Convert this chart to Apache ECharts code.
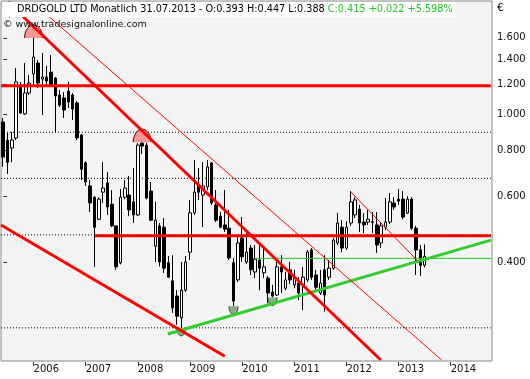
<!DOCTYPE html>
<html><head><meta charset="utf-8">
<script src="https://cdn.jsdelivr.net/npm/echarts@6/dist/echarts.min.js"></script>
<style>html,body{margin:0;padding:0;background:#fff}#c{width:530px;height:379px}</style>
</head><body><div id="c"></div>
<script>
// ---- categories (monthly) ----
const months = [
 '2005-06','2005-07','2005-08','2005-09','2005-10','2005-11','2005-12',
 '2006-01','2006-02','2006-03','2006-04','2006-05','2006-06','2006-07','2006-08','2006-09','2006-10','2006-11','2006-12',
 '2007-01','2007-02','2007-03','2007-04','2007-05','2007-06','2007-07','2007-08','2007-09','2007-10','2007-11','2007-12',
 '2008-01','2008-02','2008-03','2008-04','2008-05','2008-06','2008-07','2008-08','2008-09','2008-10','2008-11','2008-12',
 '2009-01','2009-02','2009-03','2009-04','2009-05','2009-06','2009-07','2009-08','2009-09','2009-10','2009-11','2009-12',
 '2010-01','2010-02','2010-03','2010-04','2010-05','2010-06','2010-07','2010-08','2010-09','2010-10','2010-11','2010-12',
 '2011-01','2011-02','2011-03','2011-04','2011-05','2011-06','2011-07','2011-08','2011-09','2011-10','2011-11','2011-12',
 '2012-01','2012-02','2012-03','2012-04','2012-05','2012-06','2012-07','2012-08','2012-09','2012-10','2012-11','2012-12',
 '2013-01','2013-02','2013-03','2013-04','2013-05','2013-06','2013-07','2013-08','2013-09','2013-10','2013-11','2013-12',
 '2014-01','2014-02','2014-03','2014-04','2014-05','2014-06','2014-07','2014-08','2014-09','2014-10'
];
// ---- OHLC values ----
const opens = [0.951,0.850,0.810,0.862,1.181,1.000,1.138,
 1.279,1.369,1.240,1.256,1.295,1.248,1.124,1.103,1.152,1.124,1.070,0.878,
 0.739,0.641,0.598,0.522,0.617,0.653,0.573,0.501,0.399,0.598,0.606,0.581,
 0.536,0.835,0.825,0.621,0.442,0.501,0.497,0.399,0.357,0.325,0.284,0.337,
 0.426,0.543,0.645,0.606,0.637,0.739,0.570,0.532,0.504,0.494,0.399,0.359,
 0.465,0.401,0.437,0.377,0.406,0.375,0.363,0.333,0.327,0.389,0.341,0.382,
 0.348,0.352,0.348,0.359,0.432,0.370,0.331,0.382,0.365,0.386,0.451,0.497,
 0.437,0.510,0.536,0.556,0.513,0.513,0.514,0.504,0.451,0.497,0.513,0.577,
 0.591,0.591,0.542,0.591,0.494,0.432,0.393];
const closes = [0.766,0.742,0.851,1.218,1.006,1.138,1.210,
 1.421,1.210,1.256,1.225,1.188,1.117,1.056,1.024,1.076,1.030,0.862,0.711,
 0.657,0.577,0.497,0.591,0.633,0.563,0.501,0.389,0.598,0.633,0.553,0.536,
 0.825,0.820,0.595,0.519,0.519,0.401,0.386,0.365,0.302,0.287,0.337,0.401,
 0.543,0.617,0.617,0.641,0.721,0.577,0.519,0.497,0.491,0.411,0.315,0.451,
 0.414,0.426,0.382,0.408,0.386,0.389,0.331,0.325,0.389,0.377,0.359,0.359,
 0.363,0.331,0.365,0.426,0.365,0.343,0.352,0.327,0.386,0.459,0.510,0.437,
 0.497,0.581,0.588,0.510,0.504,0.522,0.512,0.445,0.501,0.513,0.581,0.563,
 0.584,0.529,0.591,0.494,0.432,0.393,0.415];
const lows = [0.721,0.690,0.743,0.851,1.000,0.995,1.124,
 1.195,1.173,0.993,1.195,1.181,0.894,1.043,0.975,1.037,0.963,0.851,0.665,
 0.641,0.546,0.389,0.519,0.577,0.536,0.497,0.382,0.395,0.591,0.532,0.510,
 0.532,0.780,0.590,0.516,0.401,0.390,0.375,0.363,0.293,0.272,0.267,0.333,
 0.406,0.536,0.588,0.497,0.625,0.570,0.513,0.494,0.482,0.406,0.305,0.354,
 0.401,0.396,0.370,0.363,0.337,0.363,0.311,0.322,0.325,0.331,0.337,0.350,
 0.341,0.317,0.298,0.354,0.359,0.337,0.327,0.295,0.359,0.382,0.445,0.426,
 0.432,0.501,0.526,0.482,0.479,0.504,0.479,0.424,0.437,0.488,0.507,0.553,
 0.570,0.522,0.539,0.488,0.370,0.368,0.388];
const highs = [0.975,0.889,0.894,1.328,1.218,1.369,1.271,
 1.598,1.395,1.456,1.344,1.438,1.256,1.159,1.145,1.218,1.138,1.083,0.884,
 0.747,0.665,0.602,0.598,0.743,0.699,0.625,0.501,0.629,0.665,0.682,0.716,
 0.836,0.840,0.838,0.657,0.581,0.510,0.526,0.416,0.418,0.337,0.401,0.416,
 0.588,0.752,0.716,0.743,0.752,0.743,0.625,0.546,0.625,0.553,0.411,0.468,
 0.529,0.479,0.445,0.445,0.445,0.437,0.368,0.348,0.406,0.418,0.377,0.401,
 0.382,0.365,0.389,0.432,0.437,0.382,0.382,0.418,0.406,0.465,0.543,0.519,
 0.516,0.621,0.598,0.570,0.542,0.553,0.546,0.546,0.510,0.595,0.613,0.598,
 0.629,0.621,0.602,0.598,0.501,0.445,0.447];
// ---- axis ticks ----
const yTicks = [0.4,0.6,0.8,1.0,1.2,1.4,1.6];
// ---- drawn studies (x = month index, y = price) ----
const dottedLevels = [0.893,0.672,0.474,0.267];
const resistMain  = [[1.1,1.995],[86.9,0.219]];
const resistThin  = [[9.6,1.864],[100.9,0.219]];
const resistShort = [[80.0,0.618],[95.45,0.403]];
const lowerLine   = [[-0.5,0.504],[51.0,0.224]];
const supportUp   = [[37.9,0.257],[112.25,0.459]];
const greenFlat   = [[57.9,0.410],[112.25,0.410]];
const redFlatHigh = [[-0.5,1.19],[112.25,1.19]];
const redFlatMid  = [[21.1,0.4715],[112.25,0.4715]];
const highMarks = [[7,1.598],[32,0.840]];
const lowMarks  = [[41,0.267],[53,0.305],[62,0.322]];

const FONT = 'DejaVu Sans';
const n = closes.length;
const chg = closes[n-1]-closes[n-2];
const pct = chg/closes[n-2]*100;
const headA = 'DRDGOLD LTD Monatlich 31.07.2013 - O:' + opens[n-1].toFixed(3) + ' H:' + highs[n-1].toFixed(3) + ' L:' + lows[n-1].toFixed(3) + ' ';
const headB = 'C:' + closes[n-1].toFixed(3) + ' ' + (chg>=0?'+':'') + chg.toFixed(3) + ' ' + (pct>=0?'+':'') + pct.toFixed(3) + '%';

function lineSeries(data, color, width, type){
  return {type:'line', xAxisIndex:1, yAxisIndex:0, data:data, symbol:'none', silent:true,
    lineStyle:{color:color, width:width, type:type||'solid'}, z:5, animation:false};
}
function dome(dir, rx, ry, fill, stroke){
  return function(params, api){
    const p = api.coord([api.value(0), api.value(1)]);
    const pts = [];
    for (let k=0;k<=20;k++){ const a=Math.PI*k/20; pts.push([p[0]-rx*Math.cos(a), p[1]+dir*ry*Math.sin(a)]); }
    return {type:'group', children:[
      {type:'polygon', shape:{points:pts}, style:{fill:fill}},
      {type:'polyline', shape:{points:pts}, style:{stroke:stroke, lineWidth:1, fill:null}}
    ]};
  };
}
const janOnly = (i, v) => v.slice(5) === '01';

const series = [];
dottedLevels.forEach(v => series.push(Object.assign(lineSeries([[-0.5,v],[112.25,v]], '#000', 1, [1,2]), {z:1})));
series.push({type:'candlestick', xAxisIndex:0, yAxisIndex:0, barWidth:3, z:2,
  data: opens.map((o,i)=>[o, closes[i], lows[i], highs[i]]),
  itemStyle:{color:'#ffffff', color0:'#000000', borderColor:'#000000', borderColor0:'#000000', borderWidth:1},
  animation:false, silent:true});
series.push({type:'custom', xAxisIndex:1, yAxisIndex:0, data:highMarks, z:3, silent:true,
  renderItem: dome(-1, 9, 13, 'rgba(244,140,140,0.9)', '#4a0000'), animation:false});
series.push({type:'custom', xAxisIndex:1, yAxisIndex:0, data:lowMarks, z:3, silent:true,
  renderItem: dome(1, 4.5, 8, 'rgba(130,165,130,0.9)', '#2d4a2d'), animation:false});
series.push(lineSeries(redFlatHigh, '#ff0000', 3));
series.push(lineSeries(redFlatMid, '#ff0000', 3));
series.push(lineSeries(greenFlat, '#22cc22', 1));
series.push(lineSeries(supportUp, '#33cc33', 3));
series.push(lineSeries(lowerLine, '#ff0000', 3));
series.push(lineSeries(resistMain, '#ff0000', 3));
series.push(lineSeries(resistThin, '#ff0000', 1));
series.push(lineSeries(resistShort, '#ff0000', 1));

const chart = echarts.init(document.getElementById('c'), null, {renderer:'canvas'});
chart.setOption({
  animation:false,
  backgroundColor:'#ffffff',
  grid:{left:1, right:38, top:1, bottom:18, show:true, backgroundColor:'#f4f4f4', borderColor:'#8a8a8a', borderWidth:1},
  xAxis:[
    {type:'category', data:months, boundaryGap:true, offset:1,
     axisLine:{show:false},
     axisTick:{show:true, alignWithLabel:true, interval:janOnly, length:4, lineStyle:{color:'#333'}},
     axisLabel:{interval:janOnly, formatter:v=>v.slice(0,4), align:'left', margin:2, color:'#111', fontSize:10, fontFamily:FONT},
     splitLine:{show:false}},
    {type:'value', min:-0.5, max:112.5, show:false}
  ],
  yAxis:[{type:'log', logBase:10, min:0.2176, max:2.0076, position:'right', offset:2,
    axisLine:{show:false},
    axisTick:{show:true, customValues:yTicks, length:4, lineStyle:{color:'#333'}},
    axisLabel:{customValues:yTicks, formatter:v=>Number(v).toFixed(3), margin:3, color:'#111', fontSize:10, fontFamily:FONT},
    splitLine:{show:false}}],
  graphic:[
    {type:'rect', left:2, top:2, z:100, shape:{width:453, height:15}, style:{fill:'#ffffff'}},
    {type:'group', left:6, top:3, z:101, children:[
      {type:'line', shape:{x1:4.5, y1:0, x2:4.5, y2:12}, style:{stroke:'#000', lineWidth:1}},
      {type:'rect', shape:{x:1.5, y:3.5, width:6, height:5}, style:{fill:'#fff', stroke:'#000', lineWidth:1}}
    ]},
    {type:'text', left:17, top:4, z:102, style:{text:'{a|'+headA+'}{b|'+headB+'}',
      rich:{a:{fill:'#000', fontSize:9.7, fontFamily:FONT}, b:{fill:'#1ec81e', fontSize:9.7, fontFamily:FONT}}}},
    {type:'text', left:3, top:20, z:102, style:{text:'© www.tradesignalonline.com', fill:'#111', fontSize:9.5, fontFamily:FONT}},
    {type:'text', left:497, top:3, z:102, style:{text:'€', fill:'#000', fontSize:11, fontFamily:FONT}}
  ],
  series: series
});
</script></body></html>
